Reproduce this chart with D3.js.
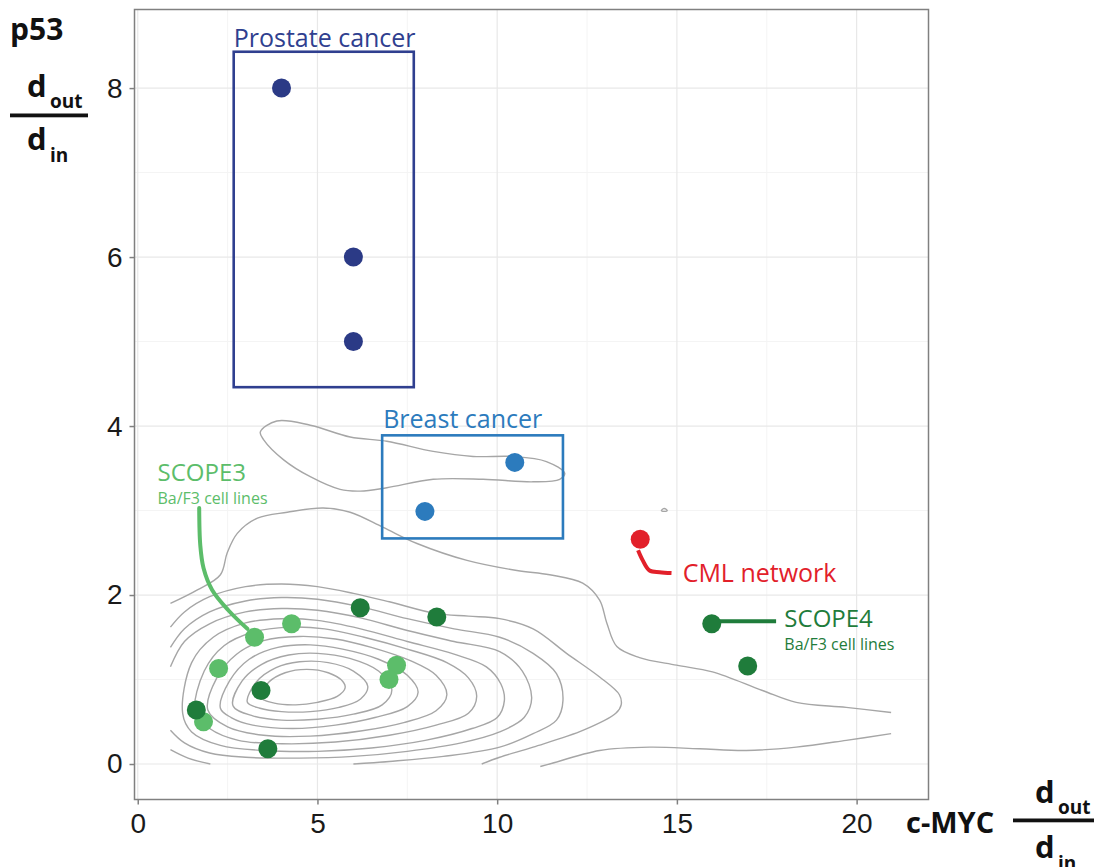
<!DOCTYPE html>
<html>
<head>
<meta charset="utf-8">
<script src="https://cdn.jsdelivr.net/npm/d3@7"></script>
<style>
  html, body { margin: 0; padding: 0; background: #ffffff; }
  svg { display: block; }
</style>
</head>
<body>
<svg id="chart" width="1094" height="867"></svg>
<script>
// ---------- data ----------
const xLim = [-0.09, 22.0];
const yLim = [-0.42, 8.93];
const xTicks = [0, 5, 10, 15, 20];
const yTicks = [0, 2, 4, 6, 8];
const xMinor = [2.5, 7.5, 12.5, 17.5];
const yMinor = [1, 3, 5, 7];

const prostateX = [4, 6, 6];
const prostateY = [8, 6, 5];
const breastX = [10.49, 7.99];
const breastY = [3.57, 2.99];
const cmlX = [13.98];
const cmlY = [2.66];
const scope3X = [3.25, 4.28, 2.25, 7.2, 6.99, 1.83];
const scope3Y = [1.50, 1.66, 1.13, 1.17, 1.00, 0.50];
const scope4X = [6.19, 8.32, 3.43, 1.63, 3.62, 15.97, 16.97];
const scope4Y = [1.85, 1.74, 0.87, 0.64, 0.18, 1.66, 1.16];

// density contour lines (traced, data units)
const contourOuterUpper = [[0.91,1.9],[1.66,2.06],[2.3,2.24],[2.49,2.5],[2.77,2.73],[3.33,2.91],[4.16,2.98],[5.16,3.03],[5.91,2.98],[6.83,2.8],[7.77,2.61],[9.16,2.41],[10.55,2.29],[11.46,2.24],[12.38,2.14],[12.85,1.94],[13.05,1.67],[13.33,1.39],[13.96,1.26],[14.99,1.17],[15.99,1.09],[17.38,0.87],[18.32,0.73],[19.71,0.67],[20.96,0.61]];
const contourOuterLower = [[11.2,-0.03],[11.46,0.0],[12.85,0.16],[14.24,0.2],[15.63,0.18],[16.93,0.16],[18.32,0.2],[19.71,0.28],[20.96,0.36]];
const contourUpperLoop = [[3.41,3.93],[3.87,4.06],[4.8,4.01],[5.91,3.87],[6.93,3.82],[8.22,3.7],[9.33,3.64],[10.44,3.64],[11.37,3.58],[11.88,3.44],[11.74,3.37],[11.0,3.34],[9.61,3.37],[8.22,3.37],[6.93,3.27],[6.19,3.23],[5.63,3.25],[4.8,3.4],[4.06,3.6],[3.5,3.84]];
const contourBlip = [[14.57,3.0],[14.65,3.025],[14.73,3.0],[14.65,2.99]];
const contourA = [[0.91,1.62],[1.3,1.8],[2.0,1.98],[3.0,2.1],[4.0,2.13],[5.0,2.1],[6.0,2.02],[7.0,1.92],[8.3,1.78],[9.2,1.75],[10.07,1.72],[11.0,1.6],[11.93,1.31],[12.85,1.03],[13.4,0.82],[13.45,0.7],[13.3,0.6],[12.4,0.4],[11.0,0.2],[10.07,0.08],[9.57,0.0]];
const contourB = [[0.91,1.38],[1.3,1.6],[2.0,1.8],[3.0,1.93],[4.0,1.97],[5.0,1.95],[6.2,1.86],[7.5,1.72],[8.8,1.6],[10.07,1.5],[11.0,1.31],[11.65,1.07],[11.83,0.75],[11.65,0.52],[11.0,0.36],[10.07,0.2],[8.5,0.09],[7.0,0.03],[6.0,0.0]];
const contourBLeft = [[0.91,0.17],[1.4,0.07],[2.02,0.0]];
const contourC = [[0.91,1.15],[1.3,1.45],[2.0,1.66],[3.0,1.8],[4.0,1.84],[5.0,1.82],[6.2,1.73],[7.5,1.58],[8.8,1.45],[10.07,1.33],[10.7,1.1],[10.96,0.78],[10.75,0.55],[10.07,0.38],[9.0,0.25],[7.5,0.15],[6.0,0.09],[4.5,0.07],[3.0,0.08],[2.0,0.13],[1.3,0.25],[0.91,0.4]];
const contourD = [[1.25,0.6],[1.5,1.2],[2.1,1.5],[3.0,1.67],[4.0,1.72],[5.0,1.7],[6.2,1.6],[7.5,1.45],[8.8,1.3],[9.7,1.15],[10.1,0.95],[10.2,0.75],[10.0,0.55],[9.3,0.42],[8.0,0.28],[6.5,0.19],[5.0,0.15],[3.5,0.16],[2.3,0.22],[1.5,0.38]];
const contourE = [[1.6,0.62],[1.85,1.1],[2.4,1.4],[3.2,1.56],[4.2,1.62],[5.2,1.6],[6.3,1.5],[7.5,1.36],[8.6,1.2],[9.2,1.02],[9.43,0.8],[9.2,0.6],[8.3,0.46],[7.0,0.34],[5.5,0.26],[4.0,0.24],[2.8,0.28],[2.0,0.42]];
const contourF = [[1.95,0.64],[2.2,1.02],[2.75,1.3],[3.5,1.46],[4.5,1.51],[5.5,1.48],[6.5,1.38],[7.6,1.22],[8.3,1.05],[8.6,0.82],[8.3,0.63],[7.4,0.49],[6.2,0.39],[4.8,0.33],[3.5,0.34],[2.5,0.44]];
const contourG = [[2.3,0.66],[2.55,0.98],[3.1,1.24],[3.9,1.38],[4.8,1.41],[5.7,1.36],[6.7,1.24],[7.5,1.05],[7.8,0.85],[7.5,0.68],[6.6,0.55],[5.5,0.46],[4.3,0.42],[3.2,0.46],[2.6,0.55]];
const contourH = [[2.65,0.69],[2.9,0.98],[3.45,1.18],[4.2,1.29],[5.0,1.31],[5.9,1.25],[6.7,1.1],[7.07,0.88],[6.8,0.7],[6.0,0.59],[5.0,0.53],[4.0,0.52],[3.2,0.57]];
const contourI = [[3.05,0.73],[3.3,0.97],[3.85,1.14],[4.5,1.21],[5.3,1.2],[6.0,1.1],[6.4,0.92],[6.2,0.77],[5.6,0.67],[4.8,0.62],[4.0,0.62],[3.4,0.66]];
const contourJ = [[3.41,0.79],[3.65,0.97],[4.1,1.08],[4.7,1.12],[5.3,1.08],[5.7,0.98],[5.77,0.9],[5.55,0.8],[5.0,0.73],[4.4,0.7],[3.8,0.72]];

const openContours = [contourOuterUpper, contourOuterLower, contourA, contourB, contourBLeft, contourC];
const closedContours = [contourUpperLoop, contourBlip, contourD, contourE, contourF, contourG, contourH, contourI, contourJ];

// annotation boxes / leaders (data units)
const prostateBox = { x: [2.67, 7.68], y: [4.46, 8.43] };
const breastBox = { x: [6.8, 11.83], y: [2.67, 3.89] };
const scope3Leader = [[1.71,3.03],[1.74,2.59],[1.83,2.32],[2.07,2.06],[2.52,1.82],[3.05,1.6]];
const cmlLeader = [[13.92,2.53],[14.05,2.41],[14.24,2.29],[14.52,2.27],[14.85,2.26]];
const scope4Leader = [[15.97,1.69],[17.76,1.69]];

// ---------- drawing ----------
const panel = { left: 134.5, right: 928.5, top: 9.5, bottom: 799.5 };
const svg = d3.select("#chart");
const x = d3.scaleLinear().domain(xLim).range([panel.left, panel.right]);
const y = d3.scaleLinear().domain(yLim).range([panel.bottom, panel.top]);

const C = {
  navy: "#2b3a86", navyBox: "#2f3f8f",
  blue: "#2c7bbd",
  red: "#e2202a",
  light: "#5cbd6a",
  dark: "#1f7c3b",
  grid: "#e8e8e8", gridMinor: "#f4f4f4",
  contour: "#a6a6a6"
};
const annoFont = "'Open Sans', 'Noto Sans', sans-serif";
const axisFont = "'Liberation Sans', Arial, sans-serif";

// grid
const g = svg.append("g");
g.selectAll(".xminor").data(xMinor).join("line")
  .attr("x1", d => x(d)).attr("x2", d => x(d)).attr("y1", panel.top).attr("y2", panel.bottom)
  .attr("stroke", C.gridMinor).attr("stroke-width", 1);
g.selectAll(".yminor").data(yMinor).join("line")
  .attr("y1", d => y(d)).attr("y2", d => y(d)).attr("x1", panel.left).attr("x2", panel.right)
  .attr("stroke", C.gridMinor).attr("stroke-width", 1);
g.selectAll(".xmajor").data(xTicks).join("line")
  .attr("x1", d => x(d)).attr("x2", d => x(d)).attr("y1", panel.top).attr("y2", panel.bottom)
  .attr("stroke", C.grid).attr("stroke-width", 1.2);
g.selectAll(".ymajor").data(yTicks).join("line")
  .attr("y1", d => y(d)).attr("y2", d => y(d)).attr("x1", panel.left).attr("x2", panel.right)
  .attr("stroke", C.grid).attr("stroke-width", 1.2);

// contours
const lineOpen = d3.line().x(d => x(d[0])).y(d => y(d[1])).curve(d3.curveCatmullRom.alpha(0.5));
const lineClosed = d3.line().x(d => x(d[0])).y(d => y(d[1])).curve(d3.curveCatmullRomClosed.alpha(0.5));
const cg = svg.append("g").attr("fill", "none").attr("stroke", C.contour).attr("stroke-width", 1.4);
cg.selectAll(".open").data(openContours).join("path").attr("d", lineOpen);
cg.selectAll(".closed").data(closedContours).join("path").attr("d", lineClosed);

// panel border
svg.append("rect")
  .attr("x", panel.left).attr("y", panel.top)
  .attr("width", panel.right - panel.left).attr("height", panel.bottom - panel.top)
  .attr("fill", "none").attr("stroke", "#808080").attr("stroke-width", 1.5);

// axes
const xAxis = d3.axisBottom(x).tickValues(xTicks).tickSize(5).tickPadding(9).tickFormat(d3.format("d"));
const yAxis = d3.axisLeft(y).tickValues(yTicks).tickSize(5).tickPadding(7).tickFormat(d3.format("d"));
const gx = svg.append("g").attr("transform", `translate(0,${panel.bottom})`).call(xAxis);
const gy = svg.append("g").attr("transform", `translate(${panel.left},0)`).call(yAxis);
[gx, gy].forEach(a => {
  a.select(".domain").remove();
  a.selectAll(".tick line").attr("stroke", "#808080").attr("stroke-width", 1.5);
  a.selectAll(".tick text").attr("font-family", axisFont).attr("font-size", 28).attr("fill", "#1a1a1a");
});

// boxes
function box(b, color) {
  svg.append("rect")
    .attr("x", x(b.x[0])).attr("y", y(b.y[1]))
    .attr("width", x(b.x[1]) - x(b.x[0])).attr("height", y(b.y[0]) - y(b.y[1]))
    .attr("fill", "none").attr("stroke", color).attr("stroke-width", 2.6);
}
box(prostateBox, C.navyBox);
box(breastBox, C.blue);

// leaders
const leaderLine = d3.line().x(d => x(d[0])).y(d => y(d[1])).curve(d3.curveCatmullRom.alpha(0.5));
svg.append("path").attr("d", leaderLine(scope3Leader)).attr("fill", "none").attr("stroke", C.light).attr("stroke-width", 4).attr("stroke-linecap", "round");
svg.append("path").attr("d", leaderLine(cmlLeader)).attr("fill", "none").attr("stroke", C.red).attr("stroke-width", 4);
svg.append("path").attr("d", leaderLine(scope4Leader)).attr("fill", "none").attr("stroke", C.dark).attr("stroke-width", 4);

// points
function pts(xs, ys, color) {
  svg.append("g").selectAll("circle").data(xs.map((v, i) => [v, ys[i]])).join("circle")
    .attr("cx", d => x(d[0])).attr("cy", d => y(d[1])).attr("r", 9.5).attr("fill", color);
}
pts(scope3X, scope3Y, C.light);
pts(scope4X, scope4Y, C.dark);
pts(prostateX, prostateY, C.navy);
pts(breastX, breastY, C.blue);
pts(cmlX, cmlY, C.red);

// annotation texts
function label(txt, dx, dy, size, color) {
  svg.append("text").attr("x", x(dx)).attr("y", y(dy)).text(txt)
    .attr("font-family", annoFont).attr("font-size", size).attr("fill", color);
}
label("Prostate cancer", 2.67, 8.49, 25, C.navyBox);
label("Breast cancer", 6.83, 3.98, 25, C.blue);
label("SCOPE3", 0.55, 3.35, 24, C.light);
label("Ba/F3 cell lines", 0.55, 3.08, 16, C.light);
label("CML network", 15.16, 2.15, 25, C.red);
label("SCOPE4", 17.99, 1.62, 24, C.dark);
label("Ba/F3 cell lines", 17.99, 1.35, 16, C.dark);

// axis titles
const tf = "'Open Sans', 'Noto Sans', sans-serif";
function t(txt, px, py, size) {
  svg.append("text").attr("x", px).attr("y", py).text(txt)
    .attr("font-family", tf).attr("font-weight", 700).attr("font-size", size).attr("fill", "#111");
}
// y title
t("p53", 10, 40, 30);
t("d", 27, 97, 31);
t("out", 50, 108, 19);
svg.append("rect").attr("x", 10).attr("y", 113.5).attr("width", 78).attr("height", 3.8).attr("fill", "#111");
t("d", 27, 150, 31);
t("in", 50, 162, 19);
// x title
t("c-MYC", 906, 833, 29);
t("d", 1035, 803, 31);
t("out", 1058, 814, 19);
svg.append("rect").attr("x", 1013).attr("y", 818.5).attr("width", 81).attr("height", 3.8).attr("fill", "#111");
t("d", 1035, 858, 31);
t("in", 1058, 870, 19);
</script>
</body>
</html>
